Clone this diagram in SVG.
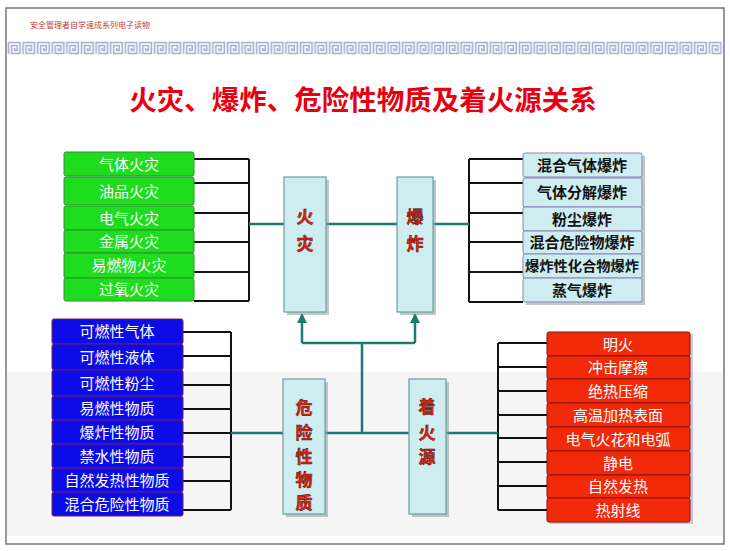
<svg xmlns="http://www.w3.org/2000/svg" width="730" height="551" viewBox="0 0 730 551">
<style>
.cjk{font-family:"Noto Sans CJK SC","Noto Sans CJK JP",sans-serif}
.g{fill:#1edc1e;stroke:#2f8f2f;stroke-width:1}
.b{fill:#0c0ce6;stroke:#7a1a5a;stroke-width:1}
.r{fill:#f22a0a;stroke:#8a1010;stroke-width:1}
.c{fill:#cdedf0;stroke:#8a82b8;stroke-width:1}
.hub{fill:#cdedf0;stroke:#6a9e9e;stroke-width:1.2}
.sh{fill:#8a9a9a;opacity:0.55}
.wt{fill:#ffffff;font-size:15px;text-anchor:middle}
.bt{fill:#111111;font-size:15px;font-weight:bold;text-anchor:middle}
.ht{fill:#e32412;stroke:#5a1008;stroke-width:0.5;font-size:17px;font-weight:bold;text-anchor:middle}
.blk{stroke:#111111;stroke-width:2;fill:none}
.teal{stroke:#1b7b72;stroke-width:2.5;fill:none}
</style>
<defs>
<pattern id="meander" x="7" y="41" width="14.6" height="14" patternUnits="userSpaceOnUse">
<path d="M1.5,13 V1.5 H13 V12.5 H4.5 V4.5 H10 V9.5 H7.5 V7" fill="none" stroke="#a9acd2" stroke-width="1.6"/>
</pattern>
<marker id="arr" viewBox="0 0 10 10" refX="9" refY="5" markerWidth="4" markerHeight="4" orient="auto">
<path d="M0,0 L10,5 L0,10 z" fill="#1b7b72"/>
</marker>
</defs>
<rect x="0" y="0" width="730" height="551" fill="#ffffff"/>
<rect x="7" y="372" width="716" height="164" fill="#f5f5f5"/>
<rect x="6" y="8" width="718" height="536" fill="none" stroke="#777777" stroke-width="1.5"/>
<text x="30" y="28" class="cjk" style="font-size:8px;fill:#c23a3a">安全管理者自学速成系列电子读物</text>
<rect x="7" y="41" width="716" height="14" fill="url(#meander)"/>
<text x="363" y="110" class="cjk" style="font-size:27.5px;font-weight:bold;fill:#e8000f;text-anchor:middle">火灾、爆炸、危险性物质及着火源关系</text>

<g id="connectors">
<path class="blk" d="M194,159 H249 M194,183 H249 M194,213 H249 M194,242 H249 M194,272 H249 M194,301 H249 M249,159 V301"/>
<path class="blk" d="M469,159 H523 M469,183 H523 M469,213 H523 M469,242 H523 M469,272 H523 M469,302 H523 M469,159 V302"/>
<path class="blk" d="M183,332 H231 M183,356 H231 M183,385 H231 M183,409 H231 M183,433 H231 M183,457 H231 M183,481 H231 M183,510 H231 M231,332 V510"/>
<path class="blk" d="M498,343 H547 M498,367 H547 M498,391 H547 M498,415 H547 M498,438 H547 M498,462 H547 M498,486 H547 M498,510 H547 M498,343 V510"/>
<path class="teal" d="M249,224 H284 M326,224 H397 M433,224 H469"/>
<path class="teal" d="M231,433 H283 M325,433 H409 M446,433 H498"/>
<path class="teal" d="M362,433 V343 M302,343 H415"/>
<path class="teal" d="M302,343 V314" marker-end="url(#arr)"/>
<path class="teal" d="M415,343 V314" marker-end="url(#arr)"/>
</g>

<g id="fire">
<rect class="sh" x="287" y="180" width="42" height="135"/>
<rect class="hub" x="284" y="177" width="42" height="135"/>
<text class="cjk ht" x="305" y="223">火</text>
<text class="cjk ht" x="305" y="250">灾</text>
</g>
<g id="explosion">
<rect class="sh" x="400" y="180" width="36" height="135"/>
<rect class="hub" x="397" y="177" width="36" height="135"/>
<text class="cjk ht" x="415" y="223">爆</text>
<text class="cjk ht" x="415" y="250">炸</text>
</g>
<g id="hazard">
<rect class="sh" x="286" y="382" width="42" height="135"/>
<rect class="hub" x="283" y="379" width="42" height="135"/>
<text class="cjk ht" x="304" y="414">危</text>
<text class="cjk ht" x="304" y="439">险</text>
<text class="cjk ht" x="304" y="463">性</text>
<text class="cjk ht" x="304" y="486">物</text>
<text class="cjk ht" x="304" y="509">质</text>
</g>
<g id="ignition">
<rect class="sh" x="412" y="382" width="37" height="135"/>
<rect class="hub" x="409" y="379" width="37" height="135"/>
<text class="cjk ht" x="427" y="413">着</text>
<text class="cjk ht" x="427" y="439">火</text>
<text class="cjk ht" x="427" y="463">源</text>
</g>

<g id="fire-types">
<rect class="g" x="64" y="152" width="130" height="24" rx="2"/>
<rect class="g" x="64" y="177" width="130" height="28" rx="2"/>
<rect class="g" x="64" y="206" width="130" height="24" rx="2"/>
<rect class="g" x="64" y="230" width="130" height="23" rx="2"/>
<rect class="g" x="64" y="253" width="130" height="25" rx="2"/>
<rect class="g" x="64" y="278" width="130" height="23" rx="2"/>
<text class="cjk wt" x="129" y="169.5">气体火灾</text>
<text class="cjk wt" x="129" y="196.5">油品火灾</text>
<text class="cjk wt" x="129" y="223.5">电气火灾</text>
<text class="cjk wt" x="129" y="247">金属火灾</text>
<text class="cjk wt" x="129" y="271">易燃物火灾</text>
<text class="cjk wt" x="129" y="295">过氧火灾</text>
</g>

<g id="explosion-types">
<rect class="sh" x="526" y="156" width="119" height="149" opacity="0.3"/>
<rect class="c" x="523" y="153" width="119" height="24" rx="2"/>
<rect class="c" x="523" y="178" width="119" height="29" rx="2"/>
<rect class="c" x="523" y="207" width="119" height="24" rx="2"/>
<rect class="c" x="523" y="231" width="119" height="23" rx="2"/>
<rect class="c" x="523" y="254" width="119" height="24" rx="2"/>
<rect class="c" x="523" y="278" width="119" height="24" rx="2"/>
<text class="cjk bt" x="582" y="170.5">混合气体爆炸</text>
<text class="cjk bt" x="582" y="197.5">气体分解爆炸</text>
<text class="cjk bt" x="582" y="224.5">粉尘爆炸</text>
<text class="cjk bt" x="582" y="248">混合危险物爆炸</text>
<text class="cjk bt" x="582" y="271" style="font-size:14px" textLength="114" lengthAdjust="spacingAndGlyphs">爆炸性化合物爆炸</text>
<text class="cjk bt" x="582" y="295.5">蒸气爆炸</text>
</g>

<g id="substances">
<rect class="b" x="52" y="319" width="131" height="25" rx="2"/>
<rect class="b" x="52" y="344" width="131" height="26" rx="2"/>
<rect class="b" x="52" y="370" width="131" height="26" rx="2"/>
<rect class="b" x="52" y="396" width="131" height="24" rx="2"/>
<rect class="b" x="52" y="420" width="131" height="24" rx="2"/>
<rect class="b" x="52" y="444" width="131" height="24" rx="2"/>
<rect class="b" x="52" y="468" width="131" height="24" rx="2"/>
<rect class="b" x="52" y="492" width="131" height="24" rx="2"/>
<text class="cjk wt" x="117" y="336.5">可燃性气体</text>
<text class="cjk wt" x="117" y="362.5">可燃性液体</text>
<text class="cjk wt" x="117" y="388.5">可燃性粉尘</text>
<text class="cjk wt" x="117" y="413.5">易燃性物质</text>
<text class="cjk wt" x="117" y="437.5">爆炸性物质</text>
<text class="cjk wt" x="117" y="461.5">禁水性物质</text>
<text class="cjk wt" x="117" y="485.5">自然发热性物质</text>
<text class="cjk wt" x="117" y="509.5">混合危险性物质</text>
</g>

<g id="ignition-sources">
<rect x="550" y="334" width="143" height="190" fill="#6a6ab0" opacity="0.35"/>
<rect class="r" x="547" y="332" width="143" height="24" rx="2"/>
<rect class="r" x="547" y="356" width="143" height="23" rx="2"/>
<rect class="r" x="547" y="379" width="143" height="24" rx="2"/>
<rect class="r" x="547" y="403" width="143" height="24" rx="2"/>
<rect class="r" x="547" y="427" width="143" height="24" rx="2"/>
<rect class="r" x="547" y="451" width="143" height="24" rx="2"/>
<rect class="r" x="547" y="475" width="143" height="23" rx="2"/>
<rect class="r" x="547" y="498" width="143" height="24" rx="2"/>
<text class="cjk wt" x="618" y="349.5">明火</text>
<text class="cjk wt" x="618" y="373">冲击摩擦</text>
<text class="cjk wt" x="618" y="396.5">绝热压缩</text>
<text class="cjk wt" x="618" y="420.5">高温加热表面</text>
<text class="cjk wt" x="618" y="444.5">电气火花和电弧</text>
<text class="cjk wt" x="618" y="468.5">静电</text>
<text class="cjk wt" x="618" y="492">自然发热</text>
<text class="cjk wt" x="618" y="515.5">热射线</text>
</g>
</svg>
